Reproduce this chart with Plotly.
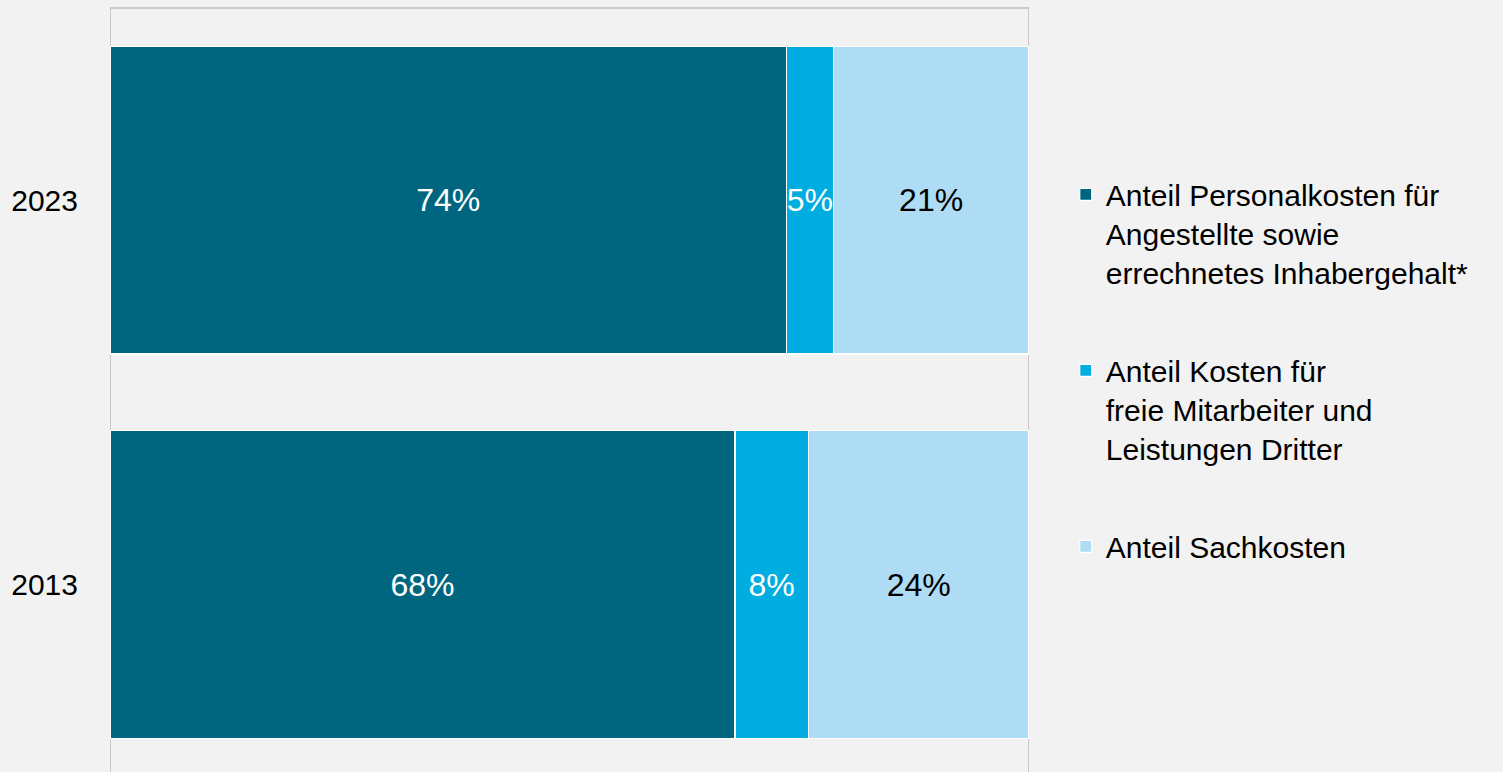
import plotly.graph_objects as go

years = ["2013", "2023"]
personal = [68.0, 73.6]
freie = [8.0, 5.1]
sach = [24.0, 21.3]

series_names = [
    "Anteil Personalkosten für<br>Angestellte sowie<br>errechnetes Inhabergehalt*",
    "Anteil Kosten für<br>freie Mitarbeiter und<br>Leistungen Dritter",
    "Anteil Sachkosten",
]
series_values = [personal, freie, sach]
series_colors = ["#006680", "#00ade0", "#aedcf5"]
text_colors = ["white", "white", "black"]

BG = "#f2f2f2"
FONT = "Arial, Liberation Sans, sans-serif"

fig = go.Figure()
for name, vals, color, tcol in zip(series_names, series_values, series_colors, text_colors):
    fig.add_trace(
        go.Bar(
            y=years,
            x=vals,
            orientation="h",
            name=name,
            legendgroup=name,
            marker={"color": color, "line": {"color": "white", "width": 1.2}},
            text=[f"{v:.0f}%" for v in vals],
            texttemplate="%{text}",
            textposition="inside",
            insidetextanchor="middle",
            constraintext="none",
            textangle=0,
            textfont={"color": tcol, "size": 32, "family": FONT},
            hoverinfo="skip",
        )
    )

# frame lines sitting behind the bars
line_style = {"color": "#c8c8c8", "width": 2}
for xv in (0, 100):
    fig.add_shape(type="line", xref="x", yref="paper", x0=xv, x1=xv, y0=0, y1=1,
                  line=line_style, layer="below")
fig.add_shape(type="line", xref="x", yref="paper", x0=0, x1=100, y0=1, y1=1,
              line=line_style, layer="below")

fig.update_layout(
    width=1503,
    height=772,
    barmode="stack",
    bargap=0.2,
    paper_bgcolor=BG,
    plot_bgcolor=BG,
    margin={"l": 110, "r": 474, "t": 8, "b": 0},
    font={"family": FONT, "size": 30, "color": "black"},
    showlegend=True,
    legend={
        "x": 1.040,
        "y": 0.79,
        "xanchor": "left",
        "yanchor": "top",
        "valign": "top",
        "traceorder": "grouped",
        "tracegroupgap": 56,
        "bgcolor": "rgba(0,0,0,0)",
        "font": {"size": 30, "family": FONT, "color": "black"},
        "itemwidth": 30,
    },
    xaxis={
        "range": [0, 100],
        "showgrid": False,
        "zeroline": False,
        "showticklabels": False,
        "showline": False,
        "fixedrange": True,
    },
    yaxis={
        "range": [-0.4876, 1.5],
        "showgrid": False,
        "zeroline": False,
        "showline": False,
        "ticks": "",
        "ticklabelstandoff": 31,
        "tickfont": {"size": 30, "family": FONT, "color": "black"},
        "fixedrange": True,
    },
)

fig.write_html(
    "out.html",
    config={"displayModeBar": False},
    post_script="document.body.style.margin='0';document.body.style.background='#f2f2f2';",
)
